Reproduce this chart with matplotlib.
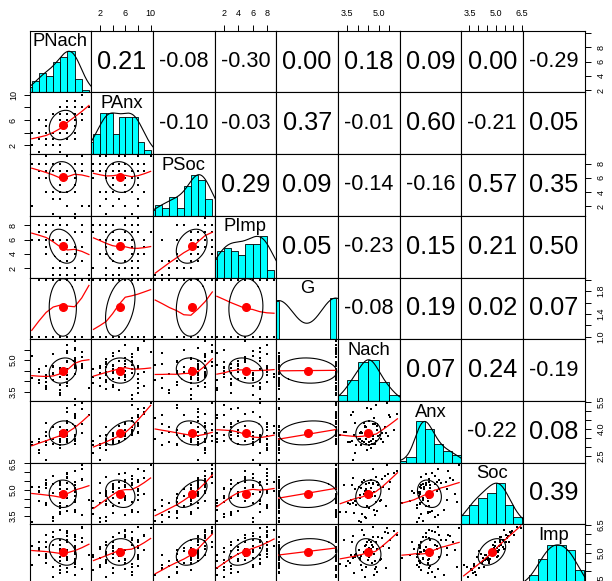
import numpy as np
import matplotlib
matplotlib.use("Agg")
import matplotlib.pyplot as plt

plt.rcParams['font.family'] = ['Liberation Sans', 'DejaVu Sans']
plt.rcParams['ytick.alignment'] = 'center'

################################################################################

# DATA (64 respondents, one value per row in each list)
names = ["PNach", "PAnx", "PSoc", "PImp", "G", "Nach", "Anx", "Soc", "Imp"]

pnach = [6, 3, 6, 5, 4, 4, 2, 6, 4, 8, 5, 3, 8, 7, 4, 7,
         5, 5, 2, 7, 6, 8, 4, 7, 3, 6, 6, 5, 7, 8, 4, 6,
         8, 7, 3, 8, 6, 9, 8, 7, 8, 4, 6, 8, 6, 9, 8, 8,
         7, 7, 5, 9, 7, 8, 6, 8, 8, 7, 9, 10, 8, 7, 7, 9]
panx = [1, 1, 1, 2, 2, 2, 2, 2, 3, 3, 3, 3, 3, 3, 3, 3,
        3, 3, 4, 4, 4, 4, 4, 4, 4, 4, 4, 4, 5, 5, 5, 5,
        5, 6, 6, 6, 6, 6, 6, 6, 6, 6, 7, 7, 7, 7, 7, 7,
        7, 7, 7, 8, 8, 8, 8, 8, 8, 8, 8, 8, 9, 9, 9, 10]
psoc = [7, 8, 6, 4, 7, 9, 2, 8, 6, 7, 1, 8, 6, 7, 4, 9,
        3, 7, 8, 6, 5, 7, 8, 2, 6, 7, 4, 8, 9, 6, 7, 3,
        8, 4, 7, 6, 8, 2, 7, 9, 5, 8, 6, 4, 7, 8, 1, 6,
        7, 4, 8, 9, 6, 7, 3, 8, 5, 6, 7, 2, 8, 4, 7, 9]
pimp = [8, 7, 2, 6, 6, 4, 6, 8, 7, 4, 1, 8, 5, 6, 8, 5,
        2, 8, 6, 3, 8, 4, 7, 1, 7, 3, 3, 8, 6, 2, 5, 1,
        5, 2, 6, 7, 9, 3, 7, 8, 2, 8, 6, 2, 3, 5, 1, 7,
        4, 4, 8, 8, 4, 7, 3, 9, 2, 3, 3, 1, 5, 4, 6, 7]
g = [1, 1, 2, 1, 1, 2, 1, 1, 1, 2, 1, 1, 1, 2, 1, 1,
     2, 1, 1, 2, 1, 1, 2, 1, 1, 2, 1, 2, 2, 1, 2, 2,
     1, 2, 2, 1, 2, 2, 1, 2, 1, 2, 2, 2, 1, 2, 2, 1,
     2, 1, 2, 2, 1, 2, 2, 1, 2, 2, 1, 2, 2, 1, 2, 2]
nach = [4.56, 3.89, 4.22, 4.39, 3.78, 4.72, 4.17, 4.61, 3.61, 4.83, 4.06, 4.44, 5.06, 4.28, 3.94, 4.89,
        4.33, 4.67, 5.22, 4.11, 4.44, 4.78, 3.72, 5.33, 4.56, 4.39, 3.83, 4.72, 5.44, 4.61, 4.17, 3.56,
        4.94, 4.47, 4.06, 5.11, 4.22, 4.83, 4.97, 5.72, 4.67, 4.28, 3.33, 4.89, 4.39, 5.17, 4.78, 3.17,
        4.56, 4.94, 5.28, 4.72, 4.11, 5.56, 3.44, 4.33, 5.47, 3.89, 4.61, 3.67, 5.89, 4.44, 3.78, 5.39]
anx = [3.08, 2.67, 3.33, 3.17, 2.25, 3.58, 3.08, 2.92, 3.25, 3.17, 3.42, 2.83, 3.67, 3.25, 3.08, 3.33,
       4.08, 3.17, 3.25, 3.42, 3.58, 3.17, 3.33, 3.75, 3.25, 3.45, 3.67, 3.42, 3.58, 3.33, 3.83, 3.25,
       4.17, 3.67, 3.45, 3.42, 3.75, 4.25, 3.58, 3.92, 3.67, 4.33, 3.83, 5.33, 4.08, 3.75, 4.58, 3.67,
       4.42, 3.92, 4.08, 4.25, 3.75, 4.67, 3.83, 4.17, 4.75, 4.33, 5.08, 4.75, 4.83, 5.17, 4.92, 5.42]
soc = [3.94, 4.38, 3.63, 3.38, 4.25, 5.38, 3.17, 4.81, 4.19, 4.63, 3.25, 4.94, 4.38, 4.75, 4.13, 5.75,
       3.44, 4.81, 5.19, 4.56, 4.06, 4.88, 5.25, 4.06, 4.88, 5.06, 3.69, 5.31, 5.88, 5.13, 5.13, 4.25,
       5.44, 4.56, 5.19, 4.44, 5.44, 3.56, 5.25, 5.94, 4.63, 5.56, 5.25, 4.31, 5.31, 5.63, 3.88, 3.75,
       5.38, 3.81, 5.81, 6.19, 4.69, 5.44, 3.75, 4.94, 5.06, 5.06, 5.56, 4.44, 6.06, 4.75, 5.69, 6.42]
imp = [4.78, 4.89, 4.06, 4.22, 4.72, 5.33, 4.33, 5.22, 4.44, 4.56, 3.33, 5.56, 4.61, 5.06, 4.94, 5.61,
       3.67, 5.44, 5.39, 4.72, 5.11, 4.94, 5.61, 4.17, 5.28, 5.11, 3.89, 5.83, 6.06, 5.06, 4.83, 4.56,
       5.22, 4.61, 5.17, 4.67, 6.22, 4.11, 5.83, 6.17, 4.44, 5.94, 5.67, 4.22, 5.44, 5.78, 3.78, 4.39,
       5.72, 3.94, 6.11, 6.42, 4.67, 5.72, 4.28, 5.39, 5.28, 4.78, 5.56, 4.89, 5.94, 5.17, 5.89, 6.33]

# correlations printed in the upper panels, row by row
cors = [
    [0.21, -0.08, -0.30, 0.00, 0.18, 0.09, 0.00, -0.29],
    [-0.10, -0.03, 0.37, -0.01, 0.60, -0.21, 0.05],
    [0.29, 0.09, -0.14, -0.16, 0.57, 0.35],
    [0.05, -0.23, 0.15, 0.21, 0.50],
    [-0.08, 0.19, 0.02, 0.07],
    [0.07, 0.24, -0.19],
    [-0.22, 0.08],
    [0.39],
]

# axis ticks and the labels R kept
tick_vals = [
    [2, 4, 6, 8, 10], [2, 4, 6, 8, 10], [2, 4, 6, 8], [2, 4, 6, 8],
    [1.0, 1.2, 1.4, 1.6, 1.8, 2.0], [3.5, 4.0, 4.5, 5.0, 5.5],
    [2.5, 3.0, 3.5, 4.0, 4.5, 5.0, 5.5], [3.5, 4.0, 4.5, 5.0, 5.5, 6.0, 6.5],
    [3.5, 4.0, 4.5, 5.0, 5.5, 6.0, 6.5],
]
tick_text = [
    ["2", "4", "6", "8", ""], ["2", "", "6", "", "10"], ["2", "4", "6", "8"], ["2", "4", "6", "8"],
    ["1.0", "", "1.4", "", "1.8", ""], ["3.5", "", "", "5.0", ""],
    ["2.5", "", "", "4.0", "", "", "5.5"], ["3.5", "", "", "5.0", "", "", "6.5"],
    ["3.5", "", "", "5.0", "", "", "6.5"],
]
bin_width = [1, 1, 1, 1, 0.1, 0.5, 0.5, 0.5, 0.5]

################################################################################

def lowess(x, y, f=2 / 3, iters=3):
    o = np.argsort(x, kind="mergesort")
    x, y = x[o], y[o]
    n = len(x)
    ns = max(min(int(f * n + 1e-7), n), 2)
    rw = np.ones(n)
    fit = np.zeros(n)
    rng = x[-1] - x[0]
    for it in range(iters + 1):
        for i in range(n):
            d = np.abs(x - x[i])
            h = np.sort(d)[ns - 1]
            w = np.zeros(n)
            if h > 0:
                ok = d <= 0.999 * h
                w[ok] = (1 - (d[ok] / h) ** 3) ** 3
                w[d <= 0.001 * h] = 1
            else:
                w[d == 0] = 1
            w = w * rw
            if w.sum() <= 0:
                fit[i] = y[i]
                continue
            w = w / w.sum()
            xm = (w * x).sum()
            c = (w * (x - xm) ** 2).sum()
            if np.sqrt(c) > 0.001 * rng:
                b = (w * (x - xm) * y).sum() / c
                fit[i] = (w * y).sum() + b * (x[i] - xm)
            else:
                fit[i] = (w * y).sum()
        if it == iters:
            break
        res = y - fit
        s = np.median(np.abs(res))
        if s == 0:
            break
        u = res / (6 * s)
        rw = np.where(np.abs(u) < 1, (1 - u ** 2) ** 2, 0)
    return x, fit


def density(x):
    sd = x.std(ddof=1)
    q75, q25 = np.percentile(x, [75, 25])
    lo = min(sd, (q75 - q25) / 1.34) or sd
    bw = 1.2 * 1.06 * lo * len(x) ** -0.2
    grid = np.linspace(x.min() - 3 * bw, x.max() + 3 * bw, 512)
    d = np.exp(-0.5 * ((grid[:, None] - x[None, :]) / bw) ** 2).sum(1)
    return grid, d / d.max()


def r_hist(x, w):
    breaks = np.arange(np.floor(x.min() / w - 1e-9) * w,
                       np.ceil(x.max() / w - 1e-9) * w + w / 2, w)
    idx = np.clip(np.searchsorted(breaks, x - 1e-9, side="left") - 1, 0, len(breaks) - 2)
    counts = np.bincount(idx, minlength=len(breaks) - 1)
    return breaks, counts

################################################################################

cols = [np.asarray(v, float) for v in [pnach, panx, psoc, pimp, g, nach, anx, soc, imp]]
lims = []
for v in cols:
    span = v.max() - v.min()
    lims.append((v.min() - 0.04 * span, v.max() + 0.04 * span))

R = np.eye(9)
for i in range(8):
    for k, val in enumerate(cors[i]):
        R[i, i + k + 1] = R[i + k + 1, i] = val

W, H = 612, 581
left0, top0, cell = 29.5, 30.7, 61.7

fig = plt.figure(figsize=(W / 100, H / 100), dpi=100)
cor_texts, diag_texts = [], []


def add_axis(ax, side, k):
    kw = dict(direction="out", length=4.3, width=0.7, labelsize=6.5,
              colors="black")
    if side == "top":
        ax.set_xticks(tick_vals[k], tick_text[k])
        ax.tick_params(axis="x", top=True, bottom=False, labeltop=True,
                       labelbottom=False, pad=5, **kw)
    else:
        ax.set_yticks(tick_vals[k], tick_text[k])
        ax.tick_params(axis="y", left=side == "left", right=side == "right",
                       labelleft=side == "left", labelright=side == "right",
                       labelrotation=90, pad=4, **kw)


for i in range(9):
    for j in range(9):
        ax = fig.add_axes([(left0 + j * cell) / W, (H - top0 - (i + 1) * cell) / H,
                           cell / W, cell / H])
        ax.set_xlim(lims[j])
        ax.set_ylim(lims[i])
        ax.set_xticks([])
        ax.set_yticks([])
        for s in ax.spines.values():
            s.set_linewidth(0.8)
        x, y = cols[j], cols[i]

        if i == j:
            lo, hi = lims[i]
            scale = (hi - lo) / 1.5
            breaks, counts = r_hist(x, bin_width[i])
            hts = counts / counts.max()
            ax.bar(breaks[:-1], hts * scale, width=np.diff(breaks), bottom=lo,
                   align="edge", color="#00FFFF", edgecolor="black", linewidth=0.6)
            gx, gy = density(x)
            ax.plot(gx, lo + gy * scale, color="black", lw=0.8)
            diag_texts.append(ax.text(0.5, 0.82, names[i], transform=ax.transAxes,
                                      ha="center", va="center", fontsize=14))
        elif i > j:
            ax.plot(x, y, "s", ms=1.5, mew=0, color="black", ls="none")
            lx, ly = lowess(x, y)
            ax.plot(lx, ly, color="red", lw=0.9)
            r = R[i, j]
            th = np.sign(r) / np.sqrt(2) if r != 0 else 1 / np.sqrt(2)
            shape = np.diag([np.sqrt(1 + r), np.sqrt(1 - r)]) @ np.array([[th, th], [-th, th]])
            a = np.linspace(0, 2 * np.pi, 52)
            ell = np.column_stack([np.cos(a), np.sin(a)]) @ shape
            xm, ym = x.mean(), y.mean()
            ax.plot(ell[:, 0] * x.std(ddof=1) + xm, ell[:, 1] * y.std(ddof=1) + ym,
                    color="black", lw=0.8)
            ax.plot(xm, ym, "o", ms=5.5, color="red")
        else:
            cor_texts.append(ax.text(0.5, 0.5, f"{R[i, j]:.2f}", transform=ax.transAxes,
                                     ha="center", va="center", fontsize=20))

        # the bottom-row axes fall below the picture's lower edge, so only
        # the top, left and right ones are drawn
        if i == 0 and j % 2 == 1:
            add_axis(ax, "top", j)
        if j == 0 and i % 2 == 1:
            add_axis(ax, "left", i)
        if j == 8 and i % 2 == 0:
            add_axis(ax, "right", i)

# size the texts the way pairs.panels does: fit a share of the panel width
renderer = fig.canvas.get_renderer()
for t in cor_texts:
    wpx = t.get_window_extent(renderer).width
    t.set_fontsize(t.get_fontsize() * 0.8 * cell / wpx)
widest = max(t.get_window_extent(renderer).width for t in diag_texts)
for t in diag_texts:
    t.set_fontsize(t.get_fontsize() * 0.9 * cell / widest)

fig.savefig("out.png", dpi=100)
